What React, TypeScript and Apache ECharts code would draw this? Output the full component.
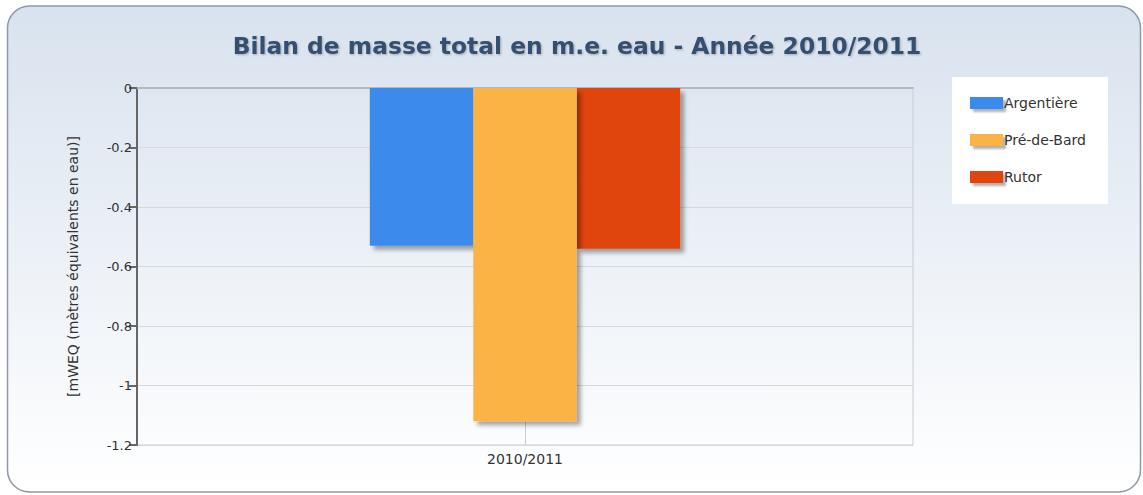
import React, { useEffect, useRef } from "react";
import * as echarts from "echarts";

const titleText = "Bilan de masse total en m.e. eau - Année 2010/2011";
const categories = ["2010/2011"];
const seriesNames = ["Argentière", "Pré-de-Bard", "Rutor"];
const argentiere = [-0.53];
const preDeBard = [-1.12];
const rutor = [-0.54];
const seriesColors = ["#3d8aed", "#fbb345", "#e0450c"];
const yAxisName = "[mWEQ (mètres équivalents en eau)]";

export default function App() {
  const ref = useRef<HTMLDivElement>(null);
  useEffect(() => {
    if (!ref.current) return;
    const chart = echarts.init(ref.current, null, { renderer: "svg" });
    const values = [argentiere, preDeBard, rutor];
    const shadow = {
      shadowColor: "rgba(0,0,0,0.35)",
      shadowBlur: 4,
      shadowOffsetX: 4,
      shadowOffsetY: 4,
    };
    const font = "DejaVu Sans";
    chart.setOption({
      animation: false,
      graphic: [
        {
          type: "rect",
          z: -10,
          silent: true,
          shape: { x: 7.5, y: 6, width: 1133, height: 486, r: 22 },
          style: {
            fill: new echarts.graphic.LinearGradient(0, 0, 0, 1, [
              { offset: 0, color: "#d8e2ee" },
              { offset: 1, color: "#ffffff" },
            ]),
            stroke: "#8f98a3",
            lineWidth: 1.5,
          },
        },
        {
          type: "rect",
          z: -5,
          silent: true,
          shape: { x: 952, y: 77, width: 156, height: 127 },
          style: { fill: "#ffffff" },
        },
      ],
      title: {
        text: titleText,
        left: 572,
        top: 29,
        textAlign: "center",
        textStyle: {
          fontFamily: font,
          fontWeight: "bold",
          fontSize: 23.4,
          color: "#34506f",
          textShadowColor: "rgba(0,0,0,0.25)",
          textShadowBlur: 2,
          textShadowOffsetX: 1,
          textShadowOffsetY: 1,
        },
      },
      legend: {
        orient: "vertical",
        left: 965,
        top: 91,
        itemWidth: 33,
        itemHeight: 12,
        itemGap: 23,
        icon: "rect",
        data: seriesNames,
        itemStyle: {
          shadowColor: "rgba(0,0,0,0.3)",
          shadowBlur: 2,
          shadowOffsetX: 3,
          shadowOffsetY: 3,
        },
        textStyle: {
          fontFamily: font,
          fontSize: 14,
          color: "#333",
          padding: [0, 0, 0, -4],
        },
      },
      grid: {
        left: 137,
        right: 230,
        top: 88,
        bottom: 50,
        show: true,
        borderColor: "#c8cdd3",
        borderWidth: 1,
        backgroundColor: "transparent",
      },
      xAxis: {
        type: "category",
        data: categories,
        axisLine: { lineStyle: { color: "#b5b9be", width: 2 } },
        axisTick: { alignWithLabel: true, length: 4, lineStyle: { color: "#888" } },
        axisLabel: {
          fontFamily: font,
          fontSize: 14,
          color: "#333",
          margin: 7,
        },
        splitLine: {
          show: true,
          alignWithLabel: true,
          lineStyle: { color: "#c8cdd3" },
        },
      },
      yAxis: {
        type: "value",
        min: -1.2,
        max: 0,
        interval: 0.2,
        name: yAxisName,
        nameLocation: "middle",
        nameRotate: 90,
        nameGap: 57,
        nameTextStyle: {
          fontFamily: font,
          fontSize: 14,
          color: "#333",
        },
        axisLine: { show: true, lineStyle: { color: "#666", width: 2 } },
        axisTick: { show: true, length: 8, lineStyle: { color: "#666", width: 2 } },
        axisLabel: {
          fontFamily: font,
          fontSize: 13,
          color: "#333",
          margin: 5,
          formatter: (v: number) => String(Math.round(v * 10) / 10),
        },
        splitLine: { show: true, lineStyle: { color: "#d5d9de" } },
      },
      series: seriesNames.map((name, i) => ({
        name,
        type: "bar",
        data: values[i],
        barGap: "0%",
        barCategoryGap: "60%",
        itemStyle: { color: seriesColors[i], ...shadow },
        z: 3 + (i === 1 ? 1 : 0),
      })),
    });
    return () => chart.dispose();
  }, []);
  return (
    <div
      ref={ref}
      style={{ position: "absolute", left: 0, top: 0, width: 1143, height: 495 }}
    />
  );
}
